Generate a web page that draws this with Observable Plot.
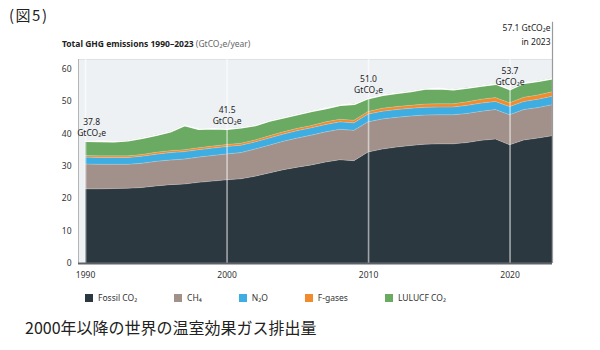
<!DOCTYPE html>
<html>
<head>
<meta charset="utf-8">
<script src="https://cdn.jsdelivr.net/npm/d3@7"></script>
<script src="https://cdn.jsdelivr.net/npm/@observablehq/plot@0.6"></script>
<style>
  html, body { margin: 0; padding: 0; background: #fff; }
  #wrap { position: relative; width: 600px; height: 350px; overflow: hidden; font-family: "Noto Sans", sans-serif; color: #222; }
  #fig { position: absolute; left: 9px; top: 7px; font-size: 15px; line-height: 16px; font-family: "Noto Sans CJK JP", "Noto Sans", sans-serif; letter-spacing: 1.5px; }
  #title { position: absolute; left: 62px; top: 39px; font-size: 8.5px; line-height: 10px; white-space: nowrap; }
  #title b { font-weight: 700; color: #222; }
  #title span { color: #666; }
  #chart { position: absolute; left: 0; top: 0; }
  #legend { position: absolute; left: 85px; top: 293px; display: flex; gap: 37px; font-size: 8.5px; line-height: 10px; color: #333; }
  #legend .item { display: flex; align-items: center; gap: 5px; white-space: nowrap; }
  #legend .sw { width: 8px; height: 8px; display: inline-block; }
  #caption { position: absolute; left: 25px; top: 319px; font-size: 16px; line-height: 16px; font-family: "Noto Sans CJK JP", sans-serif; color: #222; white-space: nowrap; }
</style>
</head>
<body>
<div id="wrap">
  <div id="fig">(図5)</div>
  <div id="title"><b>Total GHG emissions 1990–2023</b> <span>(GtCO₂e/year)</span></div>
  <div id="chart"></div>
  <div id="legend"></div>
  <div id="caption">2000年以降の世界の温室効果ガス排出量</div>
</div>
<script>
// ---- data (GtCO2e/year) ----
const years   = [1990,1991,1992,1993,1994,1995,1996,1997,1998,1999,2000,2001,2002,2003,2004,2005,2006,2007,2008,2009,2010,2011,2012,2013,2014,2015,2016,2017,2018,2019,2020,2021,2022,2023];
const fossilCO2 = [22.9,22.9,23.0,23.1,23.3,23.8,24.2,24.4,24.9,25.3,25.7,26.0,26.8,27.8,28.8,29.6,30.3,31.2,31.9,31.6,34.3,35.2,35.8,36.3,36.7,36.8,36.8,37.2,37.9,38.3,36.5,38.0,38.6,39.3];
const ch4       = [7.7,7.6,7.5,7.4,7.5,7.6,7.6,7.7,7.8,7.9,8.0,8.1,8.4,8.6,8.8,9.0,9.2,9.3,9.4,9.4,9.3,9.3,9.2,9.1,9.0,9.0,9.0,9.0,9.0,9.1,9.3,9.4,9.4,9.6];
const n2o       = [2.1,2.1,2.1,2.1,2.2,2.2,2.3,2.3,2.3,2.3,2.3,2.3,2.2,2.2,2.2,2.3,2.3,2.3,2.3,2.3,2.4,2.4,2.4,2.4,2.4,2.4,2.4,2.5,2.5,2.5,2.5,2.5,2.6,2.6];
const fgases    = [0.5,0.5,0.5,0.5,0.5,0.6,0.6,0.6,0.6,0.6,0.6,0.6,0.6,0.7,0.7,0.7,0.7,0.8,0.8,0.8,0.8,0.9,0.9,0.9,1.0,1.0,1.0,1.1,1.2,1.2,1.2,1.3,1.3,1.4];
const lulucfCO2 = [4.6,4.6,4.5,4.8,5.2,5.4,6.0,7.6,5.9,5.5,4.9,4.9,4.6,4.7,4.5,4.4,4.5,4.3,4.5,5.1,4.2,4.2,4.3,4.4,4.8,4.8,4.5,4.4,4.2,4.3,4.2,4.5,4.4,4.2];

const gases  = ["Fossil CO₂", "CH₄", "N₂O", "F-gases", "LULUCF CO₂"];
const colors = ["#2c3840", "#a1918a", "#3eaee2", "#f28a2e", "#6aaa62"];

const labelYears  = [1990, 2000, 2010, 2020];
const labelValues = ["37.8", "41.5", "51.0", "53.7"];
const finalLabel  = ["57.1 GtCO₂e", "in 2023"];
const xTicks = [1990, 2000, 2010, 2020];
const yTicks = [0, 10, 20, 30, 40, 50, 60];

// ---- build tables ----
const series = [fossilCO2, ch4, n2o, fgases, lulucfCO2];
const rows = years.flatMap((yr, i) => gases.map((g, j) => ({year: yr, gas: g, value: series[j][i]})));
const totals = years.map((yr, i) => ({year: yr, total: series.reduce((s, a) => s + a[i], 0)}));
const labelRows = labelYears.map((yr, k) => ({year: yr, total: totals[years.indexOf(yr)].total, text: labelValues[k] + "\nGtCO₂e"}));
const last = totals[totals.length - 1];

const chart = Plot.plot({
  width: 600,
  height: 290,
  marginTop: 59,
  marginBottom: 27,
  marginLeft: 78,
  marginRight: 48,
  style: {fontFamily: "Noto Sans, sans-serif", fontSize: "8px", color: "#333", background: "transparent", overflow: "visible"},
  x: {domain: [1989.5, 2023]},
  y: {domain: [0, 63]},
  color: {domain: gases, range: colors},
  marks: [
    Plot.frame({fill: "#eef1f4", stroke: null}),
    Plot.ruleY([63], {stroke: "#dde1e6"}),
    Plot.areaY(rows, {x: "year", y: "value", fill: "gas", stroke: "#ffffff", strokeOpacity: 0.25, strokeWidth: 0.6}),
    Plot.lineY(totals, {x: "year", y: "total", stroke: "#ffffff", strokeWidth: 1.6}),
    Plot.ruleX(labelYears, {stroke: "#ffffff", strokeOpacity: 0.55, strokeWidth: 1.6}),
    Plot.ruleX([2023], {y1: 0, y2: 74.5, stroke: "#9a9a9a", strokeWidth: 1.2}),
    Plot.ruleX([1989.5], {stroke: "#b5b5b5", strokeWidth: 1}),
    Plot.ruleY([0], {stroke: "#5f6368", strokeWidth: 2.2}),
    Plot.text(labelRows.filter(d => d.year !== 1990), {x: "year", y: "total", text: "text", lineAnchor: "bottom", dy: -5, fontSize: 8.5, fill: "#222", lineHeight: 1.3}),
    Plot.text(labelRows.filter(d => d.year === 1990), {x: "year", y: "total", text: "text", lineAnchor: "bottom", dy: -5, dx: 6, fontSize: 8.5, fill: "#222", lineHeight: 1.3}),
    Plot.text([last], {x: "year", y: "total", text: () => finalLabel.join("\n"), textAnchor: "end", lineAnchor: "bottom", dx: -2, dy: -34, fontSize: 8.5, fill: "#222", lineHeight: 1.55}),
    Plot.axisY({ticks: yTicks, tickSize: 0, tickPadding: 7, label: null, fontSize: 8.5}),
    Plot.axisX({ticks: xTicks, tickSize: 0, tickPadding: 8, label: null, tickFormat: d => String(d), fontSize: 8.5})
  ]
});
document.getElementById("chart").appendChild(chart);

// ---- legend ----
const legend = document.getElementById("legend");
gases.forEach((g, j) => {
  const item = document.createElement("div");
  item.className = "item";
  const sw = document.createElement("span");
  sw.className = "sw";
  sw.style.background = colors[j];
  const t = document.createElement("span");
  t.textContent = g;
  item.appendChild(sw);
  item.appendChild(t);
  legend.appendChild(item);
});
</script>
</body>
</html>
